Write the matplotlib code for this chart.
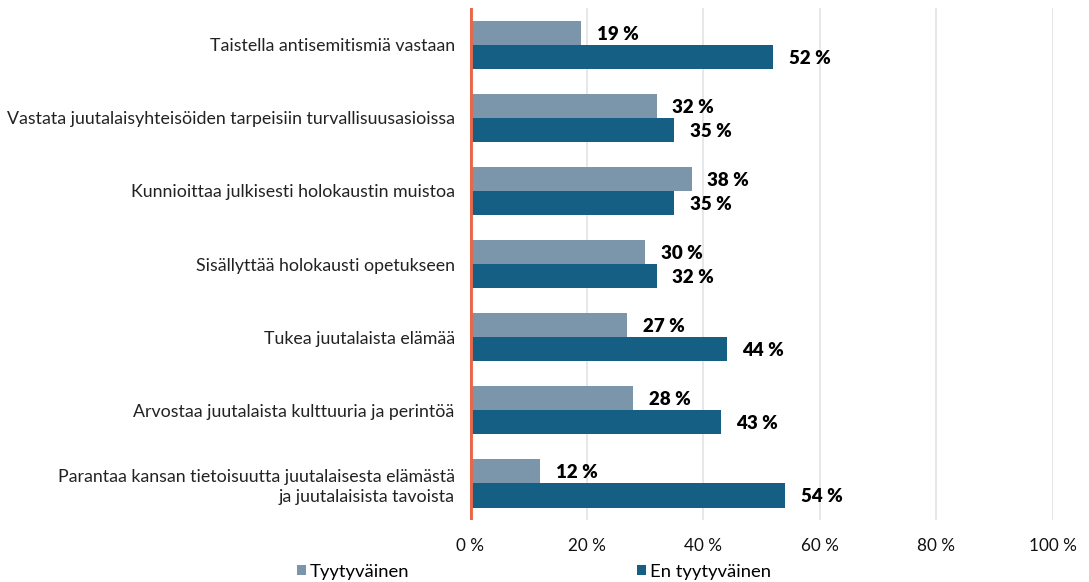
import numpy as np
import matplotlib.pyplot as plt

plt.rcParams['font.family'] = ['Lato', 'DejaVu Sans']

categories = [
    "Taistella antisemitismiä vastaan",
    "Vastata juutalaisyhteisöiden tarpeisiin turvallisuusasioissa",
    "Kunnioittaa julkisesti holokaustin muistoa",
    "Sisällyttää holokausti opetukseen",
    "Tukea juutalaista elämää",
    "Arvostaa juutalaista kulttuuria ja perintöä",
    "Parantaa kansan tietoisuutta juutalaisesta elämästä\nja juutalaisista tavoista",
]
satisfied = [19, 32, 38, 30, 27, 28, 12]
not_satisfied = [52, 35, 35, 32, 44, 43, 54]
series_names = ["Tyytyväinen", "En tyytyväinen"]
xticks = [0, 20, 40, 60, 80, 100]

c_light = '#7b96ab'
c_dark = '#155e84'

fig = plt.figure(figsize=(10.89, 5.82), dpi=100)
ax = fig.add_axes([0.4316, 0.1065, 0.5354, 0.8795])

y = np.arange(len(categories))
h = 0.33
b1 = ax.barh(y - h / 2, satisfied, height=h, color=c_light, label=series_names[0])
b2 = ax.barh(y + h / 2, not_satisfied, height=h, color=c_dark, label=series_names[1])

for yy, v in zip(y - h / 2, satisfied):
    ax.text(v + 2.7, yy + 0.02, f"{v} %", va='center', ha='left',
            fontsize=13.5, fontweight='heavy', color='black')
for yy, v in zip(y + h / 2, not_satisfied):
    ax.text(v + 2.7, yy + 0.02, f"{v} %", va='center', ha='left',
            fontsize=13.5, fontweight='heavy', color='black')

ax.set_xlim(0, 100)
ax.set_ylim(len(categories) - 0.5, -0.5)
ax.set_yticks(y)
ax.set_yticklabels(categories, fontsize=12.8, color='#222222', linespacing=1.3)
ax.set_xticks(xticks)
ax.set_xticklabels([f"{t} %" for t in xticks], fontsize=12.3, color='#111111')
ax.tick_params(axis='both', length=0)
ax.tick_params(axis='x', pad=13)
ax.tick_params(axis='y', pad=11)

ax.grid(axis='x', color='#e3e3e3', linewidth=1.2)
ax.set_axisbelow(True)
for s in ax.spines.values():
    s.set_visible(False)
ax.axvline(0, color='#e8674a', linewidth=3.5, zorder=5)

fig.legend(handles=[b1, b2], loc='lower left', bbox_to_anchor=(297 / 1089, 0.004),
           ncol=2, frameon=False, fontsize=13.3, handlelength=0.5,
           handleheight=0.5, handletextpad=0.2, columnspacing=12.3,
           borderpad=0, borderaxespad=0)

fig.savefig('out.png', dpi=100)
